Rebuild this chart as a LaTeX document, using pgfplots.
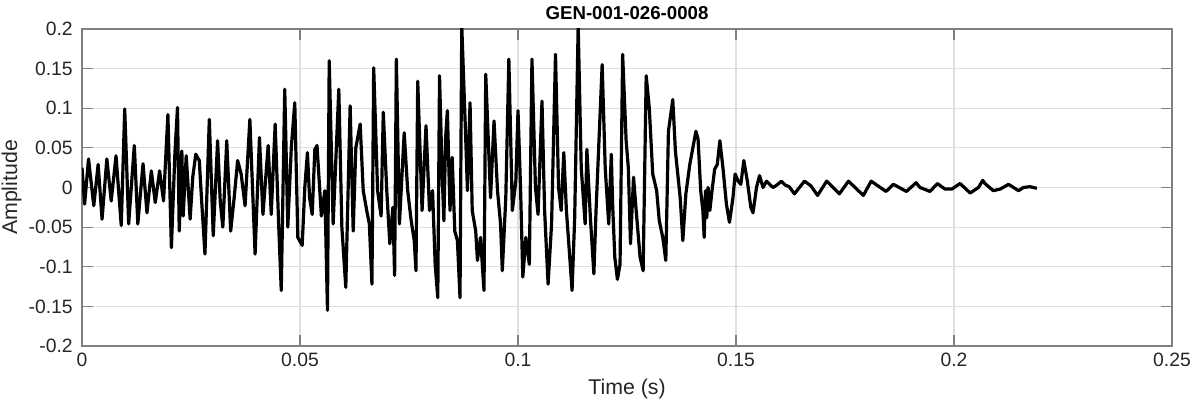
\documentclass[border=0pt]{standalone}
\usepackage{fontspec}
\setmainfont{Liberation Sans}
\usepackage{pgfplots}
\pgfplotsset{compat=1.18}
\definecolor{axgray}{RGB}{128,128,128}
\definecolor{gridgray}{RGB}{223,223,223}
\definecolor{txt}{RGB}{38,38,38}

% waveform (time in s, amplitude)
\pgfplotstableread{
t a
0.0000 0.025
0.0006 -0.021
0.0015 0.036
0.0027 -0.023
0.0037 0.029
0.0046 -0.040
0.0057 0.036
0.0067 -0.017
0.0078 0.040
0.0090 -0.048
0.0098 0.099
0.0107 -0.046
0.0120 0.053
0.0128 -0.046
0.0140 0.030
0.0149 -0.032
0.0159 0.021
0.0168 -0.019
0.0178 0.021
0.0187 -0.017
0.0197 0.092
0.0205 -0.076
0.0213 0.042
0.0219 0.101
0.0223 -0.055
0.0229 0.046
0.0232 -0.036
0.0239 0.040
0.0244 -0.004
0.0248 -0.040
0.0254 0.013
0.0261 0.042
0.0269 0.034
0.0274 -0.013
0.0282 -0.084
0.0292 0.086
0.0301 -0.061
0.0311 0.059
0.0317 -0.017
0.0323 -0.050
0.0332 0.059
0.0341 -0.055
0.0349 -0.013
0.0357 0.034
0.0365 0.017
0.0374 -0.023
0.0385 0.086
0.0397 -0.084
0.0407 0.063
0.0415 -0.034
0.0427 0.053
0.0434 -0.034
0.0443 0.080
0.0451 -0.046
0.0457 -0.130
0.0465 0.124
0.0472 -0.050
0.0480 0.050
0.0488 0.107
0.0495 -0.063
0.0505 -0.073
0.0511 0.000
0.0517 0.044
0.0522 -0.013
0.0528 -0.034
0.0534 0.048
0.0539 0.053
0.0549 -0.036
0.0557 -0.004
0.0563 -0.155
0.0567 0.160
0.0576 -0.046
0.0589 0.124
0.0596 -0.050
0.0605 -0.126
0.0615 0.103
0.0622 -0.055
0.0628 0.050
0.0638 0.080
0.0645 -0.004
0.0653 -0.029
0.0659 -0.046
0.0665 -0.122
0.0669 0.151
0.0678 -0.004
0.0686 -0.036
0.0691 0.095
0.0699 -0.004
0.0706 -0.071
0.0713 -0.025
0.0717 -0.111
0.0721 0.162
0.0728 -0.046
0.0739 0.069
0.0747 -0.004
0.0755 -0.042
0.0762 -0.067
0.0766 -0.105
0.0770 0.134
0.0780 -0.029
0.0789 0.078
0.0797 -0.029
0.0804 -0.004
0.0810 -0.097
0.0816 -0.139
0.0820 0.141
0.0826 0.017
0.0830 -0.042
0.0834 0.063
0.0838 0.097
0.0844 -0.029
0.0849 0.038
0.0855 -0.055
0.0861 -0.067
0.0867 -0.139
0.0871 0.204
0.0880 0.063
0.0884 -0.004
0.0890 0.107
0.0895 -0.029
0.0903 -0.055
0.0907 -0.092
0.0914 -0.063
0.0922 -0.130
0.0926 0.143
0.0937 -0.013
0.0945 0.084
0.0953 -0.004
0.0960 -0.046
0.0964 -0.105
0.0972 -0.013
0.0979 0.162
0.0987 -0.029
0.0995 0.008
0.1000 0.097
0.1006 -0.004
0.1011 -0.113
0.1018 -0.063
0.1026 -0.097
0.1032 0.162
0.1040 0.000
0.1046 -0.034
0.1055 0.109
0.1061 -0.029
0.1069 -0.122
0.1077 -0.046
0.1086 0.168
0.1093 0.000
0.1099 -0.029
0.1105 0.044
0.1111 -0.029
0.1116 -0.067
0.1124 -0.130
0.1130 -0.038
0.1138 0.204
0.1145 0.025
0.1154 -0.046
0.1158 0.048
0.1166 -0.038
0.1174 -0.109
0.1179 -0.029
0.1193 0.155
0.1200 0.025
0.1208 -0.046
0.1214 0.042
0.1217 -0.021
0.1222 -0.088
0.1228 -0.116
0.1234 -0.097
0.1240 0.168
0.1248 0.059
0.1253 0.025
0.1258 -0.071
0.1265 0.013
0.1271 -0.029
0.1280 -0.088
0.1287 -0.105
0.1294 0.141
0.1301 0.101
0.1309 0.017
0.1318 -0.004
0.1324 -0.042
0.1332 -0.063
0.1339 -0.092
0.1345 0.071
0.1355 0.111
0.1361 0.046
0.1372 -0.013
0.1378 -0.067
0.1385 -0.008
0.1394 0.029
0.1408 0.071
0.1413 0.061
0.1419 -0.004
0.1424 -0.029
0.1427 -0.063
0.1430 -0.004
0.1433 -0.038
0.1436 0.000
0.1440 -0.029
0.1445 -0.004
0.1451 0.023
0.1457 0.029
0.1463 0.059
0.1470 0.025
0.1478 -0.021
0.1485 -0.044
0.1493 -0.013
0.1498 0.017
0.1505 0.008
0.1511 0.004
0.1518 0.034
0.1526 0.008
0.1534 -0.025
0.1539 -0.032
0.1547 0.000
0.1554 0.015
0.1562 0.000
0.1570 0.008
0.1577 0.004
0.1585 0.000
0.1596 0.004
0.1604 0.008
0.1613 0.003
0.1622 0.001
0.1634 -0.008
0.1657 0.008
0.1672 0.002
0.1687 -0.010
0.1708 0.008
0.1737 -0.008
0.1758 0.008
0.1792 -0.010
0.1810 0.008
0.1844 -0.005
0.1861 0.004
0.1891 -0.005
0.1913 0.006
0.1922 0.000
0.1945 -0.005
0.1962 0.005
0.1979 -0.002
0.1995 -0.002
0.2014 0.005
0.2037 -0.007
0.2056 0.000
0.2066 0.009
0.2071 0.005
0.2090 -0.004
0.2106 -0.002
0.2125 0.004
0.2148 -0.004
0.2159 0.000
0.2174 0.001
0.2190 -0.001
}\wave

\begin{document}
\begin{tikzpicture}
\begin{axis}[
  name=ax,
  scale only axis,width=817.5pt,height=237.75pt,
  xmin=0,xmax=0.25,ymin=-0.2,ymax=0.2,
  xtick={0,0.05,0.1,0.15,0.2,0.25},
  xticklabels={0,0.05,0.1,0.15,0.2,0.25},
  ytick={-0.2,-0.15,-0.1,-0.05,0,0.05,0.1,0.15,0.2},
  yticklabels={-0.2,-0.15,-0.1,-0.05,0,0.05,0.1,0.15,0.2},
  tick align=inside,major tick length=8.2pt,
  tick style={axgray,line width=0.8pt},
  axis line style={axgray,line width=1pt},
  grid=major,major grid style={gridgray,line width=0.8pt},
  tick label style={font=\fontsize{14.5}{16}\selectfont,text=txt},
  xticklabel style={anchor=base,yshift=-15.75pt},
  yticklabel style={anchor=east,inner sep=0pt,xshift=-6.75pt},
  xlabel={Time (s)},ylabel={Amplitude},
  label style={font=\fontsize{16}{18}\selectfont,text=txt},
  xlabel style={at={(axis description cs:0.5,0)},anchor=base,yshift=-36.75pt},
  ylabel style={at={(axis description cs:-0.0596,0.5)},anchor=base},
  title={GEN-001-026-0008},
  every axis title/.style={font=\fontsize{14}{16}\selectfont\bfseries,text=black,
    inner sep=0pt,at={(axis description cs:0.5,1)},anchor=base,yshift=7pt},
]
\addplot[black,line width=2.4pt,line join=round] table[x=t,y=a] {\wave};
\end{axis}
\pgfresetboundingbox
\path ([shift={(-61.5pt,-43.5pt)}]ax.south west) rectangle ([shift={(15.75pt,21.75pt)}]ax.north east);
\end{tikzpicture}
\end{document}
